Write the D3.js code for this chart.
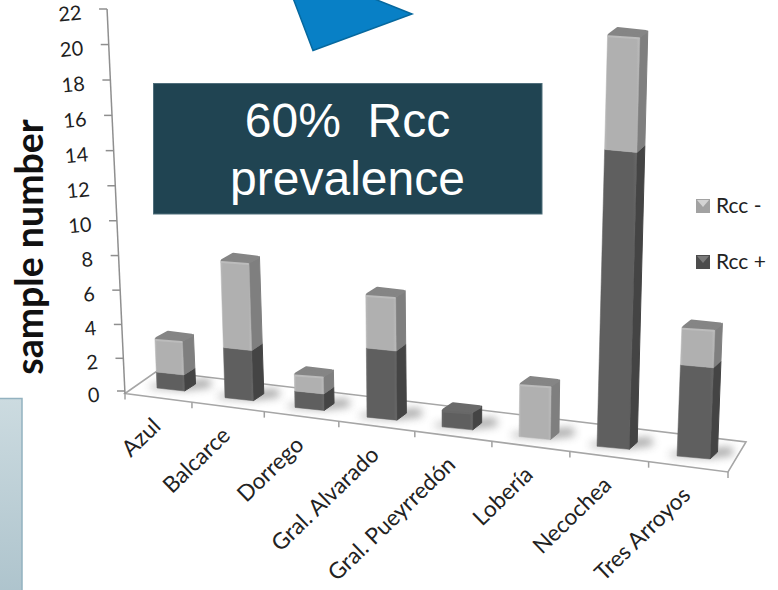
<!DOCTYPE html>
<html>
<head>
<meta charset="utf-8">
<script src="https://cdn.jsdelivr.net/npm/d3@7"></script>
<style>
html,body{margin:0;padding:0;background:#fff}
svg{display:block}
</style>
</head>
<body>
<svg id="chart" width="778" height="590"></svg>
<script>
// Samples per locality, stacked: Rcc + at the bottom, Rcc - on top
const categories = ["Azul","Balcarce","Dorrego","Gral. Alvarado","Gral. Pueyrredón","Lobería","Necochea","Tres Arroyos"];
const rccPositive = [1,3,1,4,1,0,16,5];
const rccNegative = [2,5,1,3,0,3,6,2];
const valueTicks = [0,2,4,6,8,10,12,14,16,18,20,22];
const legendLabels = ["Rcc -","Rcc +"];
const calloutLines = ["60%  Rcc","prevalence"];

const svg = d3.select("#chart");
const defs = svg.append("defs");

// --- perspective scales for the tilted floor and the leaning verticals ---
const valueRise = d3.scalePow().exponent(1.025).domain([0,22]).range([0,382]);
const depthGain = d3.scaleLinear().domain([0,7]).range([1.0,1.09]);
const barLeft = d3.scaleLinear().domain(d3.range(8)).range([157,225,295,367,442,519,597,677]);
const barBase = d3.scaleLinear().domain([0,7]).range([388,456]);
const barWidth = d3.scaleLinear().domain([0,7]).range([27.5,33]);
const sideWidth = d3.scaleLinear().domain([0,7]).range([11,7.5]);
const tickX = d3.scalePow().exponent(1.057).domain([0,8]).range([0,603]);
const frontEdgeY = d3.scaleLinear().domain([125,728]).range([393.5,472]);
const vanishX = 430, vanishDist = 6494;
const lean = (x, rise) => (x - vanishX) / vanishDist * rise;

const font = "Lato, 'Open Sans', sans-serif";

// --- background panel at lower left ---
const panelGrad = defs.append("linearGradient").attr("id","panelGrad").attr("x1",0).attr("y1",0).attr("x2",0).attr("y2",1);
panelGrad.append("stop").attr("offset",0).attr("stop-color","#ccdbe0");
panelGrad.append("stop").attr("offset",1).attr("stop-color","#adc3cc");
svg.append("rect").attr("x",-3).attr("y",398.5).attr("width",25).attr("height",200)
  .attr("fill","url(#panelGrad)").attr("stroke","#93b2c0").attr("stroke-width",1.5);

// --- floor ---
const floorPts = [[125,393.5],[157,371],[746,442],[728,472]];
const clip = defs.append("clipPath").attr("id","floorClip");
clip.append("polygon").attr("points",floorPts.join(" "));
defs.append("filter").attr("id","soft").attr("x","-50%").attr("y","-100%").attr("width","200%").attr("height","300%")
  .append("feGaussianBlur").attr("stdDeviation",4.5);

svg.append("polygon").attr("points",floorPts.join(" "))
  .attr("fill","#fff").attr("stroke","#a6a6a6").attr("stroke-width",1.6);

// Soft contact shadows under every bar
const shadowLayer = svg.append("g").attr("clip-path","url(#floorClip)");
categories.forEach((c,i)=>{
  const x = barLeft(i), y = barBase(i), w = barWidth(i), s = sideWidth(i);
  shadowLayer.append("polygon")
    .attr("points",[[x-7,y-3],[x+w+s+14,y-9],[x+w+s+16,y-1],[x+w,y+2],[x-7,y]].join(" "))
    .attr("fill","#666").attr("opacity",0.6).attr("filter","url(#soft)");
});

// --- value axis, drawn along its slanted line ---
const axisX = v => 125 + lean(125, valueRise(v));
const axisY = v => 391 - valueRise(v);
const axisG = svg.append("g").attr("stroke","#8f8f8f").attr("stroke-width",1.5).attr("fill","none");
axisG.append("line").attr("x1",axisX(0)).attr("y1",axisY(0)+3).attr("x2",axisX(22)).attr("y2",axisY(22));
valueTicks.forEach(v=>{
  axisG.append("line").attr("x1",axisX(v)-8).attr("x2",axisX(v)).attr("y1",axisY(v)).attr("y2",axisY(v));
});
svg.append("g").selectAll("text").data(valueTicks).join("text")
  .attr("text-anchor","end")
  .attr("font-family",font).attr("font-size",20).attr("fill","#1f1f1f")
  .attr("transform",v=>`translate(${axisX(v)-25},${axisY(v)+10.5}) rotate(-5)`)
  .text(v=>v);

svg.append("text")
  .attr("transform","translate(43,247) rotate(-90)")
  .attr("text-anchor","middle")
  .attr("font-family",font).attr("font-weight",700).attr("font-size",37.5).attr("fill","#111")
  .text("sample number");

// --- category ticks and labels ---
const catG = svg.append("g").attr("stroke","#a0a0a0").attr("stroke-width",1.5);
d3.range(0,9).forEach(k=>{
  const x = 125 + tickX(k);
  catG.append("line").attr("x1",x).attr("x2",x).attr("y1",frontEdgeY(x)).attr("y2",frontEdgeY(x)+6);
});
svg.append("g").selectAll("text").data(categories).join("text")
  .attr("text-anchor","end")
  .attr("font-family",font).attr("font-size",22.5).attr("fill","#222")
  .attr("transform",(c,i)=>{
    const mid = 125 + (tickX(i)+tickX(i+1))/2;
    return `translate(${mid+3.5},${frontEdgeY(mid)+30}) rotate(-44)`;
  })
  .text(c=>c);

// --- stacked 3D bars ---
const tones = {
  neg:{front:"#b0b0b0",edge:"#bcbcbc",side:"#7f7f7f",top:"#858585"},
  pos:{front:"#5f5f5f",edge:"#686868",side:"#444444",top:"#6a6a6a"}
};
function frontGradient(id,t){
  const g = defs.append("linearGradient").attr("id",id).attr("x1",0).attr("x2",1).attr("y1",0).attr("y2",0);
  g.append("stop").attr("offset",0).attr("stop-color",t.edge);
  g.append("stop").attr("offset",0.07).attr("stop-color",t.front);
  g.append("stop").attr("offset",0.9).attr("stop-color",t.front);
  g.append("stop").attr("offset",1).attr("stop-color",t.edge);
}
frontGradient("frontNeg",tones.neg);
frontGradient("frontPos",tones.pos);

const rise = 7, slope = 3;
const barsG = svg.append("g");
categories.forEach((c,i)=>{
  const x0 = barLeft(i), y0 = barBase(i), w = barWidth(i), s = sideWidth(i);
  const gain = depthGain(i);
  // screen point on the bar's front-left vertical at a stacked value
  const at = v => {
    const r = valueRise(v) * gain;
    return {x: x0 + lean(x0, r), y: y0 - r};
  };
  const segs = [
    {from:0, to:rccPositive[i], kind:"pos", fill:"url(#frontPos)"},
    {from:rccPositive[i], to:rccPositive[i]+rccNegative[i], kind:"neg", fill:"url(#frontNeg)"}
  ].filter(d=>d.to>d.from);

  segs.forEach(seg=>{
    const a = at(seg.from), b = at(seg.to), t = tones[seg.kind];
    barsG.append("polygon")
      .attr("points",[[a.x+w,a.y+slope],[a.x+w+s,a.y+slope-rise],[b.x+w+s,b.y+slope-rise],[b.x+w,b.y+slope]].join(" "))
      .attr("fill",t.side).attr("stroke",t.side).attr("stroke-width",1).attr("stroke-linejoin","round");
    barsG.append("polygon")
      .attr("points",[[a.x,a.y],[a.x+w,a.y+slope],[b.x+w,b.y+slope],[b.x,b.y]].join(" "))
      .attr("fill",seg.fill).attr("stroke",t.front).attr("stroke-width",0.5);
  });

  // Bevelled cap on the uppermost segment
  const last = segs[segs.length-1], b = at(last.to), t = tones[last.kind];
  barsG.append("polygon")
    .attr("points",[[b.x+2,b.y],[b.x+w-2,b.y+slope-1],[b.x+w+s-2,b.y+slope-rise+1],[b.x+s+2,b.y-rise+1]].join(" "))
    .attr("fill",t.top).attr("stroke",t.top).attr("stroke-width",3.5).attr("stroke-linejoin","round");
  barsG.append("line")
    .attr("x1",b.x+1).attr("y1",b.y+1.5).attr("x2",b.x+w-1).attr("y2",b.y+slope+0.5)
    .attr("stroke",t.edge).attr("stroke-width",2).attr("stroke-linecap","round");
});

// --- legend ---
const legendY = [199,255];
legendLabels.forEach((label,i)=>{
  const x = 696, y = legendY[i], z = 14;
  svg.append("rect").attr("x",x).attr("y",y).attr("width",z).attr("height",z).attr("fill",i===0 ? "#a2a2a2" : "#4c4c4c");
  svg.append("polygon").attr("points",[[x+1,y+1],[x+z-1,y+1],[x+z/2,y+z/2+1]].join(" "))
    .attr("fill",i===0 ? "#d4d4d4" : "#7a7a7a");
  svg.append("text").attr("x",716).attr("y",y+14)
    .attr("font-family",font).attr("font-size",21).attr("fill","#222")
    .text(label);
});

// --- callout box and pointer ---
svg.append("polygon")
  .attr("points",[[293,-2],[313,50.5],[412,14],[372,-2]].join(" "))
  .attr("fill","#0880c6").attr("stroke","#06689e").attr("stroke-width",1.5);
svg.append("rect").attr("x",153.5).attr("y",83.5).attr("width",388.5).attr("height",130.5)
  .attr("fill","#204452").attr("stroke","#4f6e7b").attr("stroke-width",1);
svg.append("g").selectAll("text").data(calloutLines).join("text")
  .attr("x",347.5).attr("y",(d,i)=>[137,195][i])
  .attr("text-anchor","middle").attr("xml:space","preserve").style("white-space","pre")
  .attr("font-family","'Liberation Sans', Arial, sans-serif").attr("font-size",48).attr("fill","#fff")
  .text(d=>d);
</script>
</body>
</html>
